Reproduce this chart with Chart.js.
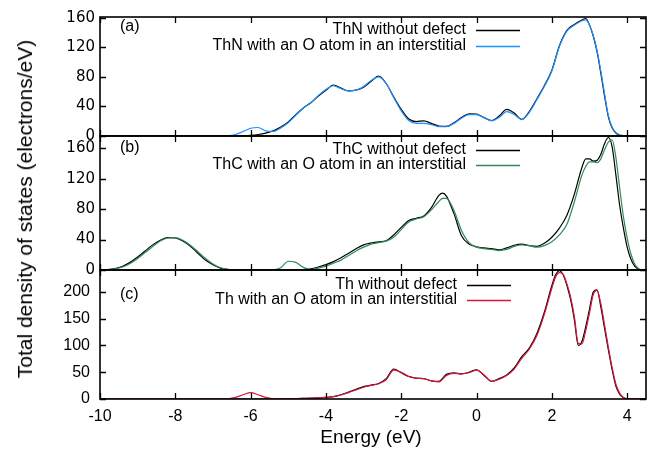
<!DOCTYPE html>
<html><head><meta charset="utf-8">
<script src="https://cdn.jsdelivr.net/npm/chart.js@4.4.0/dist/chart.umd.min.js"></script>
<style>
html,body{margin:0;padding:0;background:#fff;}
#wrap{position:relative;width:657px;height:450px;overflow:hidden;font-family:"Liberation Sans",Arial,sans-serif;color:#000;}
#wrap canvas{position:absolute;left:0;top:0;}
#ytitle{position:absolute;left:25px;top:209px;transform:translate(-50%,-50%) rotate(-90deg);white-space:nowrap;font-size:21px;}
#xtitle{position:absolute;left:371px;top:437px;transform:translate(-50%,-50%);white-space:nowrap;font-size:19px;}
</style></head>
<body>
<div id="wrap">
<canvas id="ca" width="657" height="450"></canvas>
<canvas id="cb" width="657" height="450"></canvas>
<canvas id="cc" width="657" height="450"></canvas>
<div id="ytitle">Total density of states (electrons/eV)</div>
<div id="xtitle">Energy (eV)</div>
</div>
<script>
const xTicks = [-10,-8,-6,-4,-2,0,2,4];
const yTicksA = [0,40,80,120,160];
const yTicksB = [0,40,80,120,160];
const yTicksC = [0,50,100,150,200];

const labelsA = ['ThN without defect','ThN with an O atom in an interstitial'];
const labelsB = ['ThC without defect','ThC with an O atom in an interstitial'];
const labelsC = ['Th without defect','Th with an O atom in an interstitial'];

// Panel (a): ThN
const energyA = [-10,-7,-6.6,-6.4,-6.2,-6.0,-5.8,-5.6,-5.4,-5.2,-5.0,
  -4.8,-4.6,-4.4,-4.2,-4.0,-3.8,-3.6,-3.4,-3.2,-3.0,-2.8,-2.6,-2.4,-2.2,-2.0,-1.8,-1.6,-1.4,-1.2,-1.0,-0.8,-0.6,-0.4,-0.2,
  0.0,0.2,0.4,0.6,0.8,1.0,1.2,1.4,1.6,1.8,2.0,2.2,2.4,2.6,2.8,
  2.9,3.0,3.1,3.2,3.3,3.4,3.5,3.6,3.7,3.8,4.0,4.5];
const thnPure = [0,0,0,0,0.2,0.8,2,4,7,12,19,
  29,38,45,54,62,69,65,61,62,66,74,81,71,53,36,23,19.5,20.5,17,13.5,13,18,25,30,
  29.5,25,21,27,36,31,22.5,33,50,68,89,122,143,151,157,
  159,150,135,114,85,54,26,11,4,1,0,0];
const thnO = [0,0,0.5,2,6,10.5,11.5,7,6.2,11,18,
  28,38,45,55,63,68,64,61,62,67,75,80,71,52,34,21,17,17,15.5,12.5,12.5,17,24,29,
  29,24.5,20.5,25,33,29,22,32,49,67,88,121,142,150,156,
  157,150,136,116,88,57,28,12,4.5,1.5,0,0];

// Panel (b): ThC
const energyB = [-10,-9.8,-9.6,-9.4,-9.2,-9.0,-8.8,-8.6,-8.4,-8.2,-8.0,-7.8,-7.6,-7.4,-7.2,-7.0,-6.8,-6.6,-6.4,
  -6.0,-5.6,
  -5.4,-5.2,-5.0,-4.8,-4.6,-4.4,-4.2,-4.0,-3.8,-3.6,-3.4,-3.2,-3.0,-2.8,-2.6,-2.4,-2.2,-2.0,-1.8,-1.6,-1.4,-1.2,-1.0,
  -0.9,-0.8,-0.6,-0.4,-0.2,
  0.0,0.2,0.4,0.6,0.8,1.0,1.2,1.4,1.6,1.8,2.0,2.2,2.4,2.6,2.8,
  2.9,3.0,3.1,3.2,3.3,3.4,3.5,3.6,3.7,3.8,3.9,4.0,4.1,4.2,4.3,4.4,4.5];
const thcPure = [0,0.5,2,5,10,17,25,33,39,42.5,42,38,31,22,13,7,2.5,0.5,0,
  0,0,
  0,0,0,0,0.3,1.5,4,7,11,16,22,28,33,35.5,37,38.5,46,56,65,68,71,82,98,
  101,97,74,45,34,
  30.5,29,28,26.5,29,32.5,34,32,31,35,43,55,72,100,135,
  146,146,143,144,152,166,174,162,125,85,55,30,14,5,1,0,0];
const thcO = [0,0.3,1.5,4,8.5,15,23,31,38,42,42.5,39,32.5,24,15,8,3,1,0.2,
  0,0,
  0.3,3,11.5,10,3.5,0.6,2.5,5,9,13,19,25,30,34,36,38,43,53,63,67,70,79,90,
  94,94,78,52,36,
  30,28,27,25.5,27,31,33,32,30,32,37,46,60,90,125,
  136,142,142,141,146,158,168,171,148,108,70,42,21,8,2,0.3,0];

// Panel (c): Th
const energyC = [-10,-6.8,-6.6,-6.4,-6.2,-6.0,-5.8,-5.6,-5.4,-5.2,-5.0,-4.6,-4.2,
  -4.0,-3.8,-3.6,-3.4,-3.2,-3.0,-2.8,-2.6,-2.4,-2.2,-2.0,-1.8,-1.6,-1.4,-1.2,-1.0,-0.8,-0.6,-0.4,-0.2,
  0.0,0.2,0.4,0.6,0.8,1.0,1.2,1.4,1.6,1.8,2.0,
  2.1,2.2,2.3,2.4,2.5,2.6,2.7,2.8,2.9,3.0,3.1,3.2,3.3,3.4,3.5,3.6,3.7,3.8,3.9,4.0,4.5];
const thPure = [0,0,0,0,0,0,0,0,0,0,0.3,1,2,
  3,4.5,8,13,18,23,26,29,38,56,49,42,39,38,34,33,46,49,47,50,
  54.5,44,33,38,45,58,79,95,122,162,212,
  232,240,232,212,185,147,100,108,135,168,200,204,172,132,92,55,24,9,2.5,0.5,0];
const thO = [0,0,0.5,3,8,12,8,3,0.5,0,0.3,1,2,
  3,4.3,7.5,12,17,22,25.5,28.5,36,54,50,42,39,38,34,32,44,48,47,49,
  54,45,33,37,44,56,76,93,118,158,207,
  228,236,233,215,190,153,104,103,128,161,195,203,178,138,97,59,28,11,3,0.6,0];

const panels = [
  {id:'ca', tag:'(a)', tagY:27, energy:energyA, pure:thnPure, def:thnO, labels:labelsA, color:'#1e90ff',
   yMax:161, yTicks:yTicksA, top:17, bottom:136, showX:false, legendX:466, legendY:[30,46],
   yFont:{family:'"DejaVu Sans", sans-serif', size:15}, yPad:5},
  {id:'cb', tag:'(b)', tagY:148, energy:energyB, pure:thcPure, def:thcO, labels:labelsB, color:'#2e8b57',
   yMax:176, yTicks:yTicksB, top:136, bottom:270, showX:false, legendX:466, legendY:[150,165],
   yFont:{family:'"DejaVu Sans", sans-serif', size:15}, yPad:5},
  {id:'cc', tag:'(c)', tagY:295, energy:energyC, pure:thPure, def:thO, labels:labelsC, color:'#dc143c',
   yMax:241, yTicks:yTicksC, top:270, bottom:399, showX:true, legendX:457, legendY:[285,300],
   yFont:{size:16}, yPad:10}
];

const FONT = '"Liberation Sans", Arial, sans-serif';
Chart.defaults.font.family = FONT;
Chart.defaults.color = '#000';

function makeFrame(p) {
  return {
    id: 'dosFrame',
    afterDatasetsDraw(chart) {
      const ctx = chart.ctx, a = chart.chartArea, x = chart.scales.x, y = chart.scales.y;
      ctx.save();
      ctx.strokeStyle = '#000';
      ctx.lineWidth = 1.3;
      ctx.beginPath();
      xTicks.forEach(v => {
        const px = Math.round(x.getPixelForValue(v)) + 0.5;
        ctx.moveTo(px, a.bottom); ctx.lineTo(px, a.bottom - 6);
        ctx.moveTo(px, a.top); ctx.lineTo(px, a.top + 6);
      });
      p.yTicks.forEach(v => {
        const py = Math.round(y.getPixelForValue(v)) + 0.5;
        ctx.moveTo(a.left, py); ctx.lineTo(a.left + 6, py);
        ctx.moveTo(a.right, py); ctx.lineTo(a.right - 6, py);
      });
      ctx.stroke();
      ctx.lineWidth = 1.6;
      ctx.strokeRect(a.left, a.top, a.right - a.left, a.bottom - a.top);
      ctx.font = '16px ' + FONT;
      ctx.fillStyle = '#000';
      ctx.textBaseline = 'middle';
      chart.data.datasets.forEach((ds, i) => {
        const yy = p.legendY[i];
        ctx.textAlign = 'right';
        ctx.fillText(ds.label, p.legendX, yy);
        ctx.strokeStyle = ds.borderColor;
        ctx.lineWidth = 1.3;
        ctx.beginPath();
        ctx.moveTo(p.legendX + 10, yy + 0.5); ctx.lineTo(p.legendX + 54, yy + 0.5);
        ctx.stroke();
      });
      ctx.textAlign = 'left';
      ctx.fillText(p.tag, a.left + 20, p.tagY);
      ctx.restore();
    }
  };
}

panels.forEach(p => {
  const xScale = {
    type:'linear', min:-10, max:4.5, display:p.showX,
    afterBuildTicks: s => { s.ticks = xTicks.map(v => ({value:v})); },
    grid:{display:false, drawTicks:false}, border:{display:false},
    ticks:{padding:8, color:'#000', font:{size:16}, autoSkip:false, maxRotation:0, minRotation:0,
      callback: v => String(v)}
  };
  if (p.showX) xScale.afterFit = s => { s.height = 450 - p.bottom; };
  new Chart(document.getElementById(p.id), {
    type:'line',
    data:{datasets:[
      {label:p.labels[0], data:p.energy.map((e,i)=>({x:e, y:p.pure[i]})), borderColor:'#000000',
       borderWidth:1.2, pointRadius:0, cubicInterpolationMode:'monotone', fill:false, order:2},
      {label:p.labels[1], data:p.energy.map((e,i)=>({x:e, y:p.def[i]})), borderColor:p.color,
       borderWidth:1.2, pointRadius:0, cubicInterpolationMode:'monotone', fill:false, order:1}
    ]},
    options:{
      responsive:false, animation:false, events:[],
      layout:{padding:{left:60, right:11, top:p.top, bottom:p.showX ? 0 : 450 - p.bottom}},
      plugins:{legend:{display:false}, tooltip:{enabled:false}},
      scales:{
        x:xScale,
        y:{type:'linear', min:0, max:p.yMax,
          afterBuildTicks: s => { s.ticks = p.yTicks.map(v => ({value:v})); },
          afterFit: s => { s.width = 40; },
          grid:{display:false, drawTicks:false}, border:{display:false},
          ticks:{padding:p.yPad, color:'#000', font:p.yFont, callback: v => String(v)}}
      }
    },
    plugins:[makeFrame(p)]
  });
});
</script>
</body></html>
